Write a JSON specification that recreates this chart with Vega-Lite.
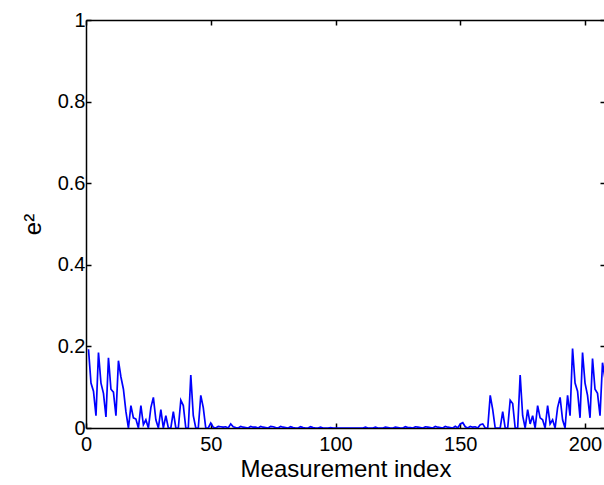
{
 "$schema": "https://vega.github.io/schema/vega-lite/v6.json",
 "width": 519, "height": 408,
 "padding": {"left": 86, "top": 20, "right": 0, "bottom": 57},
 "autosize": {"type": "none"},
 "background": "white",
 "config": {"view": {"stroke": null}, "axis": {"labelFont": "Liberation Sans", "titleFont": "Liberation Sans", "labelFontSize": 20, "labelColor": "black", "titleColor": "black", "domainColor": "black", "tickColor": "black", "grid": false, "domainWidth": 1.5, "tickWidth": 1.5, "titleFontWeight": "normal"}},
 "data": {"values": [
{"i":1,"e2":0.193},{"i":2,"e2":0.11},{"i":3,"e2":0.09},{"i":4,"e2":0.03},{"i":5,"e2":0.185},{"i":6,"e2":0.11},{"i":7,"e2":0.085},{"i":8,"e2":0.027},{"i":9,"e2":0.172},{"i":10,"e2":0.095},
{"i":11,"e2":0.088},{"i":12,"e2":0.03},{"i":13,"e2":0.165},{"i":14,"e2":0.125},{"i":15,"e2":0.095},{"i":16,"e2":0.04},{"i":17,"e2":0.0},{"i":18,"e2":0.055},{"i":19,"e2":0.025},{"i":20,"e2":0.022},
{"i":21,"e2":0.0},{"i":22,"e2":0.055},{"i":23,"e2":0.008},{"i":24,"e2":0.02},{"i":25,"e2":0.0},{"i":26,"e2":0.05},{"i":27,"e2":0.075},{"i":28,"e2":0.02},{"i":29,"e2":0.0},{"i":30,"e2":0.045},
{"i":31,"e2":0.0},{"i":32,"e2":0.03},{"i":33,"e2":0.0},{"i":34,"e2":0.0},{"i":35,"e2":0.04},{"i":36,"e2":0.0},{"i":37,"e2":0.0},{"i":38,"e2":0.068},{"i":39,"e2":0.055},{"i":40,"e2":0.0},
{"i":41,"e2":0.0},{"i":42,"e2":0.13},{"i":43,"e2":0.03},{"i":44,"e2":0.0},{"i":45,"e2":0.0},{"i":46,"e2":0.08},{"i":47,"e2":0.05},{"i":48,"e2":0.0},{"i":49,"e2":0.0},{"i":50,"e2":0.012},
{"i":51,"e2":0.002},{"i":52,"e2":0.0},{"i":53,"e2":0.004},{"i":54,"e2":0.003},{"i":55,"e2":0.002},{"i":56,"e2":0.003},{"i":57,"e2":0.0},{"i":58,"e2":0.01},{"i":59,"e2":0.003},{"i":60,"e2":0.001},
{"i":61,"e2":0.0},{"i":62,"e2":0.004},{"i":63,"e2":0.002},{"i":64,"e2":0.001},{"i":65,"e2":0.0},{"i":66,"e2":0.004},{"i":67,"e2":0.002},{"i":68,"e2":0.002},{"i":69,"e2":0.0},{"i":70,"e2":0.004},
{"i":71,"e2":0.002},{"i":72,"e2":0.001},{"i":73,"e2":0.0},{"i":74,"e2":0.004},{"i":75,"e2":0.003},{"i":76,"e2":0.001},{"i":77,"e2":0.0},{"i":78,"e2":0.004},{"i":79,"e2":0.002},{"i":80,"e2":0.001},
{"i":81,"e2":0.0},{"i":82,"e2":0.003},{"i":83,"e2":0.001},{"i":84,"e2":0.0},{"i":85,"e2":0.0},{"i":86,"e2":0.003},{"i":87,"e2":0.001},{"i":88,"e2":0.0},{"i":89,"e2":0.0},{"i":90,"e2":0.003},
{"i":91,"e2":0.001},{"i":92,"e2":0.0},{"i":93,"e2":0.0},{"i":94,"e2":0.002},{"i":95,"e2":0.0},{"i":96,"e2":0.0},{"i":97,"e2":0.0},{"i":98,"e2":0.001},{"i":99,"e2":0.0},{"i":100,"e2":0.0},
{"i":101,"e2":0.0},{"i":102,"e2":0.0},{"i":103,"e2":0.0},{"i":104,"e2":0.0},{"i":105,"e2":0.0},{"i":106,"e2":0.0},{"i":107,"e2":0.0},{"i":108,"e2":0.0},{"i":109,"e2":0.0},{"i":110,"e2":0.0},
{"i":111,"e2":0.0},{"i":112,"e2":0.002},{"i":113,"e2":0.0},{"i":114,"e2":0.0},{"i":115,"e2":0.0},{"i":116,"e2":0.002},{"i":117,"e2":0.0},{"i":118,"e2":0.0},{"i":119,"e2":0.0},{"i":120,"e2":0.002},
{"i":121,"e2":0.001},{"i":122,"e2":0.0},{"i":123,"e2":0.0},{"i":124,"e2":0.002},{"i":125,"e2":0.001},{"i":126,"e2":0.0},{"i":127,"e2":0.0},{"i":128,"e2":0.003},{"i":129,"e2":0.001},{"i":130,"e2":0.001},
{"i":131,"e2":0.0},{"i":132,"e2":0.003},{"i":133,"e2":0.002},{"i":134,"e2":0.001},{"i":135,"e2":0.0},{"i":136,"e2":0.003},{"i":137,"e2":0.002},{"i":138,"e2":0.001},{"i":139,"e2":0.0},{"i":140,"e2":0.004},
{"i":141,"e2":0.002},{"i":142,"e2":0.001},{"i":143,"e2":0.0},{"i":144,"e2":0.004},{"i":145,"e2":0.002},{"i":146,"e2":0.001},{"i":147,"e2":0.0},{"i":148,"e2":0.004},{"i":149,"e2":0.0},{"i":150,"e2":0.01},
{"i":151,"e2":0.013},{"i":152,"e2":0.003},{"i":153,"e2":0.0},{"i":154,"e2":0.004},{"i":155,"e2":0.002},{"i":156,"e2":0.003},{"i":157,"e2":0.0},{"i":158,"e2":0.008},{"i":159,"e2":0.01},{"i":160,"e2":0.0},
{"i":161,"e2":0.0},{"i":162,"e2":0.08},{"i":163,"e2":0.045},{"i":164,"e2":0.0},{"i":165,"e2":0.0},{"i":166,"e2":0.0},{"i":167,"e2":0.04},{"i":168,"e2":0.0},{"i":169,"e2":0.0},{"i":170,"e2":0.068},
{"i":171,"e2":0.06},{"i":172,"e2":0.0},{"i":173,"e2":0.0},{"i":174,"e2":0.13},{"i":175,"e2":0.03},{"i":176,"e2":0.0},{"i":177,"e2":0.045},{"i":178,"e2":0.01},{"i":179,"e2":0.03},{"i":180,"e2":0.0},
{"i":181,"e2":0.055},{"i":182,"e2":0.025},{"i":183,"e2":0.02},{"i":184,"e2":0.0},{"i":185,"e2":0.055},{"i":186,"e2":0.01},{"i":187,"e2":0.02},{"i":188,"e2":0.0},{"i":189,"e2":0.05},{"i":190,"e2":0.075},
{"i":191,"e2":0.02},{"i":192,"e2":0.0},{"i":193,"e2":0.08},{"i":194,"e2":0.03},{"i":195,"e2":0.195},{"i":196,"e2":0.11},{"i":197,"e2":0.09},{"i":198,"e2":0.025},{"i":199,"e2":0.185},{"i":200,"e2":0.11},
{"i":201,"e2":0.08},{"i":202,"e2":0.025},{"i":203,"e2":0.17},{"i":204,"e2":0.095},{"i":205,"e2":0.085},{"i":206,"e2":0.03},{"i":207,"e2":0.16},{"i":208,"e2":0.12}
 ]},
 "layer": [
  {"mark": {"type": "line", "color": "#0000ff", "strokeWidth": 1.7, "clip": true},
   "encoding": {
    "x": {"field": "i", "type": "quantitative", "scale": {"domain": [0, 208], "nice": false, "zero": false},
          "axis": {"orient": "bottom", "values": [0, 50, 100, 150, 200], "format": "d", "labelFlush": false, "tickSize": -5, "labelPadding": 11, "title": "Measurement index", "titleFontSize": 24, "titlePadding": 3}},
    "y": {"field": "e2", "type": "quantitative", "scale": {"domain": [0, 1], "nice": false},
          "axis": {"orient": "left", "values": [0, 0.2, 0.4, 0.6, 0.8, 1], "format": "~g", "tickSize": -5, "labelPadding": 6, "title": "e²", "titleFontSize": 24, "titlePadding": 12}}
   }},
  {"mark": {"type": "line", "opacity": 0},
   "encoding": {
    "x": {"field": "i", "type": "quantitative", "axis": {"orient": "top", "values": [0, 50, 100, 150, 200], "tickSize": -5, "labels": false, "title": null}},
    "y": {"field": "e2", "type": "quantitative", "axis": {"orient": "right", "values": [0, 0.2, 0.4, 0.6, 0.8, 1], "tickSize": -5, "labels": false, "title": null}}
   }}
 ],
 "resolve": {"axis": {"x": "independent", "y": "independent"}}
}
